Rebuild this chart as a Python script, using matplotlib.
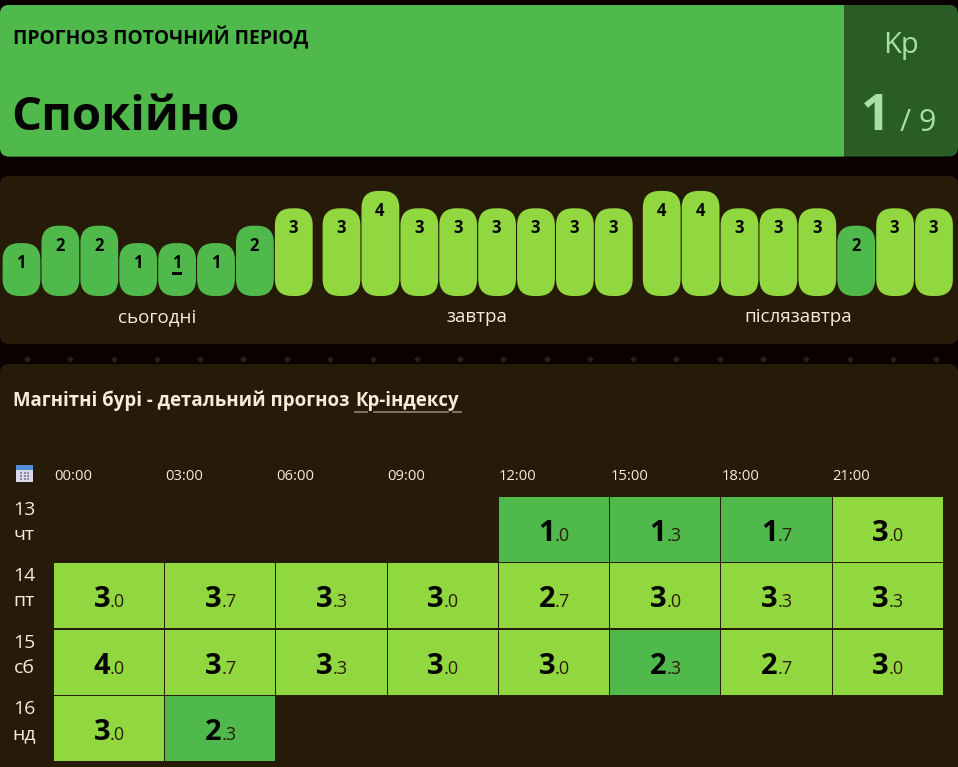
import matplotlib
matplotlib.use("Agg")
import matplotlib.pyplot as plt
from matplotlib.patches import FancyBboxPatch, Rectangle

plt.rcParams['font.family'] = ['Open Sans', 'DejaVu Sans']

# ---------------------------------------------------------
# DATA
# ---------------------------------------------------------
today = [1, 2, 2, 1, 1, 1, 2, 3]
tomorrow = [3, 4, 3, 3, 3, 3, 3, 3]
after_tomorrow = [4, 4, 3, 3, 3, 2, 3, 3]
group_labels = ['сьогодні', 'завтра', 'післязавтра']
current_bar = 4

hours = ['00:00', '03:00', '06:00', '09:00', '12:00', '15:00', '18:00', '21:00']
day_numbers = ['13', '14', '15', '16']
day_names = ['чт', 'пт', 'сб', 'нд']
kp_13 = [None, None, None, None, '1.0', '1.3', '1.7', '3.0']
kp_14 = ['3.0', '3.7', '3.3', '3.0', '2.7', '3.0', '3.3', '3.3']
kp_15 = ['4.0', '3.7', '3.3', '3.0', '3.0', '2.3', '2.7', '3.0']
kp_16 = ['3.0', '2.3', None, None, None, None, None, None]

# ---------------------------------------------------------
# STYLE
# ---------------------------------------------------------
BG = '#0a0100'
PANEL = '#261a08'
GREEN = '#50b94b'
LIME = '#91d73f'
DARK_GREEN = '#2a5c26'
KP_TEXT = '#a8e0a4'
CREAM = '#f7ecd8'


def level_colour(v):
    return LIME if v >= 2.5 else GREEN


fig = plt.figure(figsize=(9.58, 7.67), dpi=100, facecolor=BG)
ax = fig.add_axes([0, 0, 1, 1])
ax.set_xlim(0, 958)
ax.set_ylim(767, 0)
ax.axis('off')


def panel(x0, y0, x1, y1, colour, r=9, **kw):
    p = FancyBboxPatch((x0 + r, y0 + r), x1 - x0 - 2 * r, y1 - y0 - 2 * r,
                       boxstyle=f'round,pad={r},rounding_size={r}',
                       fc=colour, ec='none', **kw)
    ax.add_patch(p)
    return p


# ---------------------------------------------------------
# HEADER
# ---------------------------------------------------------
panel(0, 5, 958, 156.5, DARK_GREEN)
green = panel(0, 5, 900, 156.5, GREEN)
green.set_clip_path(Rectangle((0, 0), 844, 767, transform=ax.transData))
ax.text(13, 44, 'ПРОГНОЗ ПОТОЧНИЙ ПЕРІОД', fontsize=13.9, fontweight='bold', color='#050505', va='baseline')
ax.text(11, 130, 'Спокійно', fontsize=34, fontweight='bold', color='#050505', va='baseline')
ax.text(901, 53, 'Kp', fontsize=21, color=KP_TEXT, ha='center', va='baseline')
ax.text(890, 130, '1', fontsize=37, fontweight='bold', color=KP_TEXT, ha='right', va='baseline')
ax.text(900, 131, '/ 9', fontsize=22, color=KP_TEXT, ha='left', va='baseline')

# ---------------------------------------------------------
# 3-HOUR BARS
# ---------------------------------------------------------
panel(0, 176, 958, 344, PANEL)
group_x = [2.6, 322.6, 642.8]
label_x = [157, 477, 798]
pitch = 38.9
bar_w = 37.8
bottom = 296
radius = 17

for start, lx, label, vals in zip(group_x, label_x, group_labels, [today, tomorrow, after_tomorrow]):
    for i, v in enumerate(vals):
        x = start + i * pitch
        top = bottom - (35.5 + 17.4 * v)
        ax.add_patch(FancyBboxPatch((x + radius, top + radius), bar_w - 2 * radius, bottom - top - 2 * radius,
                                    boxstyle=f'round,pad={radius},rounding_size={radius}',
                                    fc=level_colour(v), ec='none'))
        ax.text(x + bar_w / 2 - 0.5, top + 25, str(v), fontsize=12, fontweight='bold', color='#050505',
                ha='center', va='baseline')
        if vals is today and i == current_bar:
            ax.add_patch(Rectangle((x + 13.5, 272), 10, 3, fc='#050505', ec='none'))
    ax.text(lx, 322, label, fontsize=13.5, color=CREAM, ha='center', va='baseline')

# diamonds between the panels
for i in range(22):
    ax.plot(27 + i * 43.3, 359, marker='D', ms=3.4, color='#2d2211', mew=0)

# ---------------------------------------------------------
# DETAILED TABLE
# ---------------------------------------------------------
panel(0, 364, 958, 790, PANEL)
ax.text(13, 406, 'Магнітні бурі - детальний прогноз', fontsize=13.4, fontweight='bold', color=CREAM, va='baseline')
ax.text(355, 406, 'Кр-індексу', fontsize=13.4, fontweight='bold', color=CREAM, va='baseline')
for x0, x1 in [(355, 367), (374, 448), (453, 461)]:
    ax.plot([x0, x1], [412, 412], color='#8a8478', lw=1.2)

# calendar icon
ax.add_patch(Rectangle((16, 465), 17, 17, fc='#d9d8ea', ec='none'))
ax.add_patch(Rectangle((16, 465), 17, 5, fc='#4f8fd8', ec='none'))
for r in range(3):
    for c in range(3):
        ax.add_patch(Rectangle((20 + c * 3.6, 471.5 + r * 3.3), 2, 2, fc='#8c8ca8', ec='none'))

col_x = 54
col_w = 111.25
row_y = 497
row_h = 66.3

for c, h in enumerate(hours):
    ax.text(col_x + c * col_w, 480, h, fontsize=10.6, color=CREAM, va='baseline')

for r, row in enumerate([kp_13, kp_14, kp_15, kp_16]):
    y = row_y + r * row_h
    ax.text(24, y + 18, day_numbers[r], fontsize=14, color=CREAM, ha='center', va='baseline')
    ax.text(24, y + 43, day_names[r], fontsize=14, color=CREAM, ha='center', va='baseline')
    for c, val in enumerate(row):
        if val is None:
            continue
        x = col_x + c * col_w
        ax.add_patch(Rectangle((x, y), col_w - 1.2, row_h - 1.4, fc=level_colour(float(val)), ec='none'))
        whole, frac = val.split('.')
        cx = x + col_w / 2 + 0.5
        ax.text(cx, y + 44, whole, fontsize=21, fontweight='bold', color='#050505', ha='right', va='baseline')
        ax.text(cx, y + 44, '.' + frac, fontsize=13, color='#2a1d0a', ha='left', va='baseline')

fig.savefig('out.png', dpi=100, facecolor=BG)
